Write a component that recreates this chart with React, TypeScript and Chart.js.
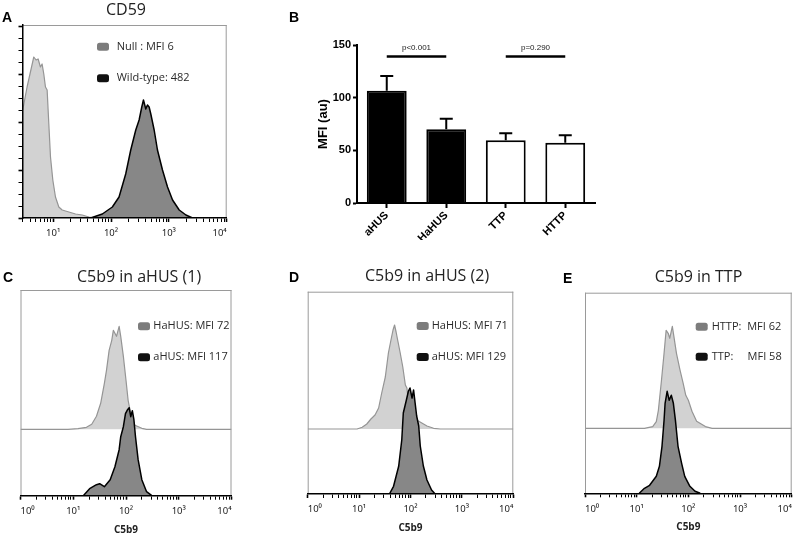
import React, { useEffect, useRef } from 'react';
import { Chart, registerables } from 'chart.js';

Chart.register(...registerables);

// ---------------- DATA ----------------
// x values are log10 fluorescence intensity, y values relative cell counts

// Panel A – CD59
const cd59NullLog = [0.474, 0.549, 0.607, 0.665, 0.705, 0.74, 0.78, 0.809, 0.838, 0.867, 0.896, 0.925, 0.954, 0.994, 1.04, 1.098, 1.156, 1.272, 1.387, 1.503, 1.618, 1.734];
const cd59NullCount = [108, 131, 146, 161, 158, 159, 151, 154, 144, 131, 128, 94, 61, 38, 21, 11, 8, 6, 4, 3, 1, 0];
const cd59WtLog = [1.647, 1.85, 2.023, 2.139, 2.254, 2.341, 2.428, 2.486, 2.532, 2.561, 2.601, 2.63, 2.659, 2.688, 2.746, 2.803, 2.89, 2.977, 3.064, 3.179, 3.295, 3.41];
const cd59WtCount = [0, 4, 11, 21, 44, 68, 88, 98, 111, 118, 109, 113, 111, 104, 88, 68, 48, 31, 18, 8, 3, 0];

// Panel B – MFI bar chart
const groups = ['aHUS', 'HaHUS', 'TTP', 'HTTP'];
const mfiMean = [106.5, 70, 59.5, 57.3];
const mfiSem = [14, 10, 6.7, 7];
const groupFilled = [true, true, false, false];
const sigFrom = [0, 2];
const sigTo = [1, 3];
const sigText = ['p<0.001', 'p=0.290'];
const sigLevel = 139;
const mfiTicks = [0, 50, 100, 150];

// Panel C – C5b9 in aHUS (1)
const c1HahusLog = [0.9, 1.09, 1.25, 1.35, 1.44, 1.52, 1.59, 1.63, 1.68, 1.73, 1.76, 1.79, 1.82, 1.87, 1.9, 1.95, 2.0, 2.04, 2.1, 2.17, 2.3, 2.39];
const c1HahusCount = [0, 0.7, 2, 5, 13, 26, 46, 59, 79, 89, 99, 96, 93, 103, 93, 73, 49, 29, 13, 4, 1, 0];
const c1AhusLog = [1.19, 1.31, 1.44, 1.5, 1.59, 1.7, 1.79, 1.87, 1.9, 1.95, 1.99, 2.03, 2.06, 2.09, 2.12, 2.15, 2.18, 2.23, 2.3, 2.39, 2.49];
const c1AhusCount = [0, 7, 11, 12, 9, 16, 29, 46, 59, 69, 82, 86, 88, 79, 85, 76, 59, 36, 16, 4, 0];

// Panel D – C5b9 in aHUS (2)
const c2HahusLog = [0.96, 1.06, 1.15, 1.23, 1.31, 1.38, 1.44, 1.51, 1.57, 1.62, 1.66, 1.69, 1.72, 1.75, 1.8, 1.85, 1.9, 1.93, 1.96, 2.03, 2.12, 2.22, 2.32, 2.45, 2.58];
const c2HahusCount = [0, 1.7, 5, 10, 14, 21, 36, 52, 76, 89, 99, 104, 97, 89, 76, 62, 44, 41, 26, 16, 9, 6, 3, 0.7, 0];
const c2AhusLog = [1.59, 1.67, 1.77, 1.83, 1.86, 1.92, 1.96, 1.99, 2.03, 2.06, 2.09, 2.12, 2.16, 2.19, 2.25, 2.32, 2.41, 2.48];
const c2AhusCount = [0, 7.7, 27.7, 54, 81, 94, 103, 106, 96, 104, 91, 78, 68, 48, 28, 14, 4, 0];

// Panel E – C5b9 in TTP
const ttpHttpLog = [1.15, 1.31, 1.38, 1.42, 1.48, 1.53, 1.57, 1.61, 1.64, 1.69, 1.72, 1.77, 1.84, 1.9, 1.95, 2.0, 2.07, 2.16, 2.33, 2.46];
const ttpHttpCount = [0, 1.7, 6.7, 18, 48, 75, 98, 95, 90, 102, 92, 75, 58, 45, 33, 28, 17, 7, 1.7, 0];
const ttpTtpLog = [1.05, 1.15, 1.25, 1.38, 1.44, 1.49, 1.53, 1.55, 1.59, 1.63, 1.67, 1.71, 1.75, 1.8, 1.87, 1.93, 2.03, 2.13, 2.23];
const ttpTtpCount = [0, 5, 8, 17, 27, 47, 73, 90, 102, 93, 98, 90, 73, 47, 30, 17, 7, 2, 0];

// ---------------- HELPERS ----------------
const SUP = ['\u2070', '\u00B9', '\u00B2', '\u00B3', '\u2074'];
const isMajor = (v: number) => Math.abs(v - Math.round(v)) < 1e-6;

function logTicks(min: number, max: number) {
  const out: number[] = [];
  for (let d = Math.floor(min); d <= Math.ceil(max); d++) {
    for (let k = 1; k <= 9; k++) {
      const v = d + Math.log10(k);
      if (v >= min - 1e-6 && v <= max + 1e-6) out.push(v);
    }
  }
  return out;
}

const textPlugin = {
  id: 'panelText',
  afterDraw(chart: any, _a: any, opts: any) {
    const items = (opts && opts.items) || [];
    const ctx = chart.ctx;
    ctx.save();
    for (let i = 0; i < items.length; i++) {
      const it = items[i];
      ctx.font = it.font;
      ctx.fillStyle = it.color || '#000';
      ctx.textAlign = it.align || 'left';
      ctx.textBaseline = 'alphabetic';
      ctx.fillText(it.text, it.x, it.y);
    }
    ctx.restore();
  },
};

const boxPlugin = {
  id: 'panelBox',
  afterDatasetsDraw(chart: any, _a: any, opts: any) {
    if (!opts || !opts.sides) return;
    const { left, right, top, bottom } = chart.chartArea;
    const ctx = chart.ctx;
    ctx.save();
    ctx.strokeStyle = opts.color || '#9a9a9a';
    ctx.lineWidth = 1;
    ctx.beginPath();
    const s: string = opts.sides;
    if (s.includes('t')) { ctx.moveTo(left, top + 0.5); ctx.lineTo(right, top + 0.5); }
    if (s.includes('r')) { ctx.moveTo(right - 0.5, top); ctx.lineTo(right - 0.5, bottom); }
    if (s.includes('l')) { ctx.moveTo(left + 0.5, top); ctx.lineTo(left + 0.5, bottom); }
    ctx.stroke();
    ctx.restore();
  },
};

function roundRect(ctx: any, x: number, y: number, w: number, h: number, r: number) {
  ctx.beginPath();
  ctx.moveTo(x + r, y);
  ctx.lineTo(x + w - r, y);
  ctx.quadraticCurveTo(x + w, y, x + w, y + r);
  ctx.lineTo(x + w, y + h - r);
  ctx.quadraticCurveTo(x + w, y + h, x + w - r, y + h);
  ctx.lineTo(x + r, y + h);
  ctx.quadraticCurveTo(x, y + h, x, y + h - r);
  ctx.lineTo(x, y + r);
  ctx.quadraticCurveTo(x, y, x + r, y);
  ctx.closePath();
}

const legendPlugin = {
  id: 'panelLegend',
  afterDraw(chart: any, _a: any, opts: any) {
    if (!opts || opts.x === undefined) return;
    const ctx = chart.ctx;
    ctx.save();
    ctx.font = opts.font;
    ctx.textBaseline = 'middle';
    ctx.textAlign = 'left';
    chart.data.datasets.forEach((ds: any, i: number) => {
      const y = opts.y + i * opts.gap;
      ctx.fillStyle = ds.swatch;
      roundRect(ctx, opts.x, y - 4, 12, 8, 2.5);
      ctx.fill();
      ctx.fillStyle = '#2a2a2a';
      ctx.fillText(ds.label, opts.textX, y);
    });
    ctx.restore();
  },
};

const errorBarPlugin = {
  id: 'errorBars',
  afterDatasetsDraw(chart: any) {
    const meta = chart.getDatasetMeta(0);
    const yS = chart.scales.y;
    const ctx = chart.ctx;
    ctx.save();
    ctx.strokeStyle = '#000';
    ctx.lineWidth = 2;
    meta.data.forEach((el: any, i: number) => {
      const yTop = yS.getPixelForValue(mfiMean[i] + mfiSem[i]);
      ctx.beginPath();
      ctx.moveTo(el.x, el.y);
      ctx.lineTo(el.x, yTop);
      ctx.moveTo(el.x - 6.5, yTop);
      ctx.lineTo(el.x + 6.5, yTop);
      ctx.stroke();
    });
    ctx.restore();
  },
};

const sigPlugin = {
  id: 'sigBars',
  afterDatasetsDraw(chart: any) {
    const xS = chart.scales.x;
    const yS = chart.scales.y;
    const ctx = chart.ctx;
    ctx.save();
    ctx.strokeStyle = '#000';
    ctx.fillStyle = '#222';
    ctx.lineWidth = 2.5;
    ctx.font = '8px "Liberation Sans"';
    ctx.textAlign = 'center';
    ctx.textBaseline = 'alphabetic';
    const y = yS.getPixelForValue(sigLevel);
    sigFrom.forEach((a, i) => {
      const x1 = xS.getPixelForValue(a);
      const x2 = xS.getPixelForValue(sigTo[i]);
      ctx.beginPath();
      ctx.moveTo(x1, y);
      ctx.lineTo(x2, y);
      ctx.stroke();
      ctx.fillText(sigText[i], (x1 + x2) / 2, y - 6.5);
    });
    ctx.restore();
  },
};

// ---------------- PANEL LAYOUTS ----------------
type Series = { label: string; logs: number[]; counts: number[]; tone: 'light' | 'dark'; stacked: boolean };

const histPanels = [
  {
    key: 'A', cx: 0, cy: 0, cw: 262, ch: 250,
    area: { l: 22.5, t: 25, r: 226.7, b: 218 },
    xMin: 0.47, xMax: 4, yMax: 193, offset: 0, yTicks: true, sides: 'tr',
    xTitlePad: -1,
    legend: { x: 97, y: 46.7, gap: 31.6, textX: 116.7 },
    title: { text: 'CD59', x: 126, y: 15 },
    letter: { text: 'A', x: 2, y: 22 },
    series: [
      { label: 'Null : MFI 6', logs: cd59NullLog, counts: cd59NullCount, tone: 'light', stacked: false },
      { label: 'Wild-type: 482', logs: cd59WtLog, counts: cd59WtCount, tone: 'dark', stacked: false },
    ] as Series[],
  },
  {
    key: 'C', cx: 0, cy: 250, cw: 265, ch: 286,
    area: { l: 20.5, t: 290, r: 231.5, b: 495.7 },
    xMin: 0, xMax: 4, yMax: 205.7, offset: 66.4, yTicks: false, sides: 'trl',
    xTitlePad: 0,
    legend: { x: 138, y: 326.3, gap: 31, textX: 153.3 },
    title: { text: 'C5b9 in aHUS (1)', x: 139, y: 282 },
    letter: { text: 'C', x: 3, y: 282 },
    series: [
      { label: 'HaHUS: MFI 72', logs: c1HahusLog, counts: c1HahusCount, tone: 'light', stacked: true },
      { label: 'aHUS: MFI 117', logs: c1AhusLog, counts: c1AhusCount, tone: 'dark', stacked: false },
    ] as Series[],
  },
  {
    key: 'D', cx: 265, cy: 250, cw: 265, ch: 286,
    area: { l: 307.7, t: 291.7, r: 513.3, b: 494 },
    xMin: 0, xMax: 4, yMax: 202.3, offset: 65, yTicks: false, sides: 'trl',
    xTitlePad: 1.7,
    legend: { x: 416.7, y: 326, gap: 31, textX: 431.7 },
    title: { text: 'C5b9 in aHUS (2)', x: 427, y: 280.7 },
    letter: { text: 'D', x: 289, y: 282 },
    series: [
      { label: 'HaHUS: MFI 71', logs: c2HahusLog, counts: c2HahusCount, tone: 'light', stacked: true },
      { label: 'aHUS: MFI 129', logs: c2AhusLog, counts: c2AhusCount, tone: 'dark', stacked: false },
    ] as Series[],
  },
  {
    key: 'E', cx: 530, cy: 250, cw: 275, ch: 286,
    area: { l: 585, t: 292.7, r: 791.7, b: 493.3 },
    xMin: 0, xMax: 4, yMax: 200.6, offset: 65, yTicks: false, sides: 'trl',
    xTitlePad: 2.5,
    legend: { x: 695.7, y: 326.7, gap: 30, textX: 711.7 },
    title: { text: 'C5b9 in TTP', x: 698.5, y: 281.5 },
    letter: { text: 'E', x: 563, y: 283 },
    series: [
      { label: 'HTTP:  MFI 62', logs: ttpHttpLog, counts: ttpHttpCount, tone: 'light', stacked: true },
      { label: 'TTP:     MFI 58', logs: ttpTtpLog, counts: ttpTtpCount, tone: 'dark', stacked: false },
    ] as Series[],
  },
];

const TITLE_FONT = '16px "Open Sans"';
const LETTER_FONT = 'bold 14px "Liberation Sans"';

function histConfig(p: any): any {
  const datasets = p.series.map((s: Series) => {
    const base = s.stacked ? p.offset : 0;
    const pts = s.logs.map((lx, i) => ({ x: lx, y: base + s.counts[i] }));
    if (s.stacked) {
      pts.unshift({ x: p.xMin, y: base });
      pts.push({ x: p.xMax, y: base });
    }
    const light = s.tone === 'light';
    return {
      label: s.label,
      data: pts,
      borderColor: light ? '#959595' : '#000',
      borderWidth: light ? 1.2 : 1.5,
      backgroundColor: light ? '#d2d2d2' : '#878787',
      fill: s.stacked ? { value: base } : 'origin',
      pointRadius: 0,
      tension: 0,
      borderJoinStyle: 'round',
      order: light ? 2 : 1,
      swatch: light ? '#7c7c7c' : '#111',
    };
  });
  const ox = p.cx, oy = p.cy;
  const areaL = p.area.l - ox, areaT = p.area.t - oy, areaR = p.area.r - ox, areaB = p.area.b - oy;
  const fontMain = '11px "Open Sans"';
  return {
    type: 'line',
    data: { datasets },
    plugins: [textPlugin, boxPlugin, legendPlugin],
    options: {
      animation: false,
      responsive: false,
      maintainAspectRatio: false,
      devicePixelRatio: 1,
      layout: { padding: { left: areaL, top: areaT, right: p.cw - areaR, bottom: 0 } },
      plugins: {
        legend: { display: false },
        tooltip: { enabled: false },
        title: { display: false },
        panelBox: { sides: p.sides, color: '#9a9a9a' },
        panelLegend: { x: p.legend.x - ox, y: p.legend.y - oy, gap: p.legend.gap, textX: p.legend.textX - ox, font: fontMain },
        panelText: {
          items: [
            { text: p.title.text, x: p.title.x - ox, y: p.title.y - oy, font: TITLE_FONT, color: '#222', align: 'center' },
            { text: p.letter.text, x: p.letter.x - ox, y: p.letter.y - oy, font: LETTER_FONT, color: '#000', align: 'left' },
          ],
        },
      },
      scales: {
        x: {
          type: 'linear',
          min: p.xMin,
          max: p.xMax,
          afterBuildTicks: (s: any) => {
            s.ticks = logTicks(p.xMin, p.xMax).map((v) => ({ value: v }));
          },
          afterFit: (s: any) => {
            s.height = p.ch - areaB;
            s.paddingLeft = 0;
            s.paddingRight = 0;
          },
          ticks: {
            autoSkip: false,
            maxRotation: 0,
            minRotation: 0,
            align: 'inner',
            padding: 6,
            color: '#222',
            font: { family: '"Noto Sans"', size: 9.5 },
            callback: (v: number) => (isMajor(v) ? '10' + SUP[Math.round(v)] : ''),
          },
          grid: {
            drawOnChartArea: false,
            drawTicks: true,
            tickLength: 4,
            tickColor: '#000',
            tickWidth: (c: any) => (c.tick && isMajor(c.tick.value) ? 1.6 : 1),
          },
          border: { display: true, color: '#000', width: 1.5, z: 1 },
          title: p.xTitlePad >= 0
            ? { display: true, text: 'C5b9', color: '#222', font: { family: '"Open Sans"', size: 10, weight: 'bold' }, padding: { top: 0, bottom: p.xTitlePad } }
            : { display: false },
        },
        y: {
          display: p.yTicks,
          min: 0,
          max: p.yMax,
          afterBuildTicks: (s: any) => {
            const t: any[] = [];
            for (let v = 0; v <= p.yMax; v += 12) t.push({ value: v });
            s.ticks = t;
          },
          afterFit: (s: any) => { s.width = 0; },
          ticks: { display: false },
          grid: {
            drawOnChartArea: false,
            drawTicks: true,
            tickLength: 4,
            tickColor: '#000',
            tickWidth: (c: any) => (c.tick && c.tick.value % 48 === 0 ? 1.6 : 1),
          },
          border: { display: true, color: '#000', width: 1.5, z: 1 },
        },
      },
    },
  };
}

const barLayout = { cx: 265, cy: 0, cw: 335, ch: 240, areaL: 357, areaT: 45, areaR: 595, areaB: 203 };

function barConfig(): any {
  const L = barLayout;
  const boldFont = { family: '"Liberation Sans"', size: 11, weight: 'bold' };
  return {
    type: 'bar',
    data: {
      labels: groups,
      datasets: [
        {
          data: mfiMean,
          backgroundColor: groupFilled.map((f) => (f ? '#000' : '#fff')),
          borderColor: '#000',
          borderWidth: 2,
          barPercentage: 0.67,
          categoryPercentage: 1,
        },
      ],
    },
    plugins: [textPlugin, errorBarPlugin, sigPlugin],
    options: {
      animation: false,
      responsive: false,
      maintainAspectRatio: false,
      devicePixelRatio: 1,
      layout: { padding: { left: 0, top: L.areaT - L.cy, right: L.cx + L.cw - L.areaR, bottom: 0 } },
      plugins: {
        legend: { display: false },
        tooltip: { enabled: false },
        panelText: {
          items: [{ text: 'B', x: 289 - L.cx, y: 22 - L.cy, font: LETTER_FONT, color: '#000', align: 'left' }],
        },
      },
      scales: {
        x: {
          afterFit: (s: any) => { s.height = L.ch - (L.areaB - L.cy); },
          ticks: { color: '#000', font: boldFont, minRotation: 45, maxRotation: 45, padding: 1, autoSkip: false },
          grid: { drawOnChartArea: false, offset: false, tickLength: 5, tickColor: '#000', tickWidth: 2 },
          border: { color: '#000', width: 2, z: 1 },
        },
        y: {
          min: 0,
          max: 150,
          afterBuildTicks: (s: any) => { s.ticks = mfiTicks.map((v) => ({ value: v })); },
          afterFit: (s: any) => { s.width = L.areaL - L.cx; },
          ticks: { color: '#000', font: boldFont, padding: 2 },
          grid: { drawOnChartArea: false, tickLength: 4, tickColor: '#000', tickWidth: 2 },
          border: { color: '#000', width: 2, z: 1 },
          title: {
            display: true,
            text: 'MFI (au)',
            color: '#000',
            font: { family: '"Liberation Sans"', size: 13, weight: 'bold' },
            padding: { top: 51, bottom: 0 },
          },
        },
      },
    },
  };
}

function ChartCanvas({ left, top, width, height, build }: any) {
  const ref = useRef<HTMLCanvasElement>(null);
  useEffect(() => {
    const chart = new Chart(ref.current as HTMLCanvasElement, build());
    return () => chart.destroy();
  }, []);
  return (
    <canvas
      ref={ref}
      width={width}
      height={height}
      style={{ position: 'absolute', left, top, width, height }}
    />
  );
}

export default function App() {
  return (
    <div
      style={{
        position: 'fixed',
        left: 0,
        top: 0,
        width: 795,
        height: 536,
        overflow: 'hidden',
        background: '#fff',
      }}
    >
      {histPanels.map((p) => (
        <ChartCanvas key={p.key} left={p.cx} top={p.cy} width={p.cw} height={p.ch} build={() => histConfig(p)} />
      ))}
      <ChartCanvas left={barLayout.cx} top={barLayout.cy} width={barLayout.cw} height={barLayout.ch} build={barConfig} />
    </div>
  );
}
